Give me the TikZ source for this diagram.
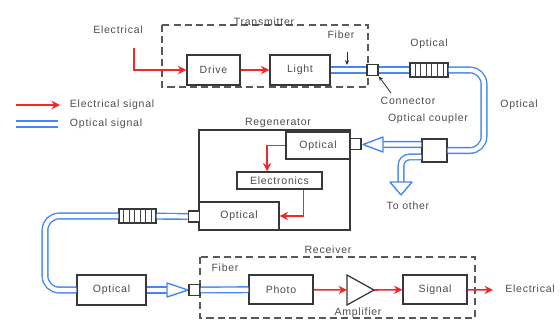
\documentclass[tikz,border=0pt]{standalone}
\usepackage{fontspec}
\setmainfont{Liberation Sans}
\newfontfamily\lblfont{Liberation Sans}[LetterSpace=7]
\usetikzlibrary{arrows.meta,calc}
\definecolor{elred}{RGB}{240,40,40}
\definecolor{optblue}{RGB}{70,135,240}

\begin{document}
\begin{tikzpicture}[x=0.25mm, y=-0.25mm,
    font=\lblfont\fontsize{7.5}{9}\selectfont, text=black!70,
    blk/.style={draw=black!78, line width=0.9pt, fill=white, inner sep=0pt},
    grp/.style={draw=black!65, line width=1.1pt, dash pattern=on 5pt off 3pt},
    elarrow/.style={draw=elred, line width=1.1pt, -{Stealth[length=6pt,width=6pt]}},
    fiber/.style={draw=optblue, double=white, double distance=3pt, line width=1pt},
    fibtri/.style={draw=optblue, line width=1pt, fill=white, line join=round}]
    \useasboundingbox (0,0) rectangle (560,320);

    % legend
    \coordinate (lg1a) at (16,105);
    \coordinate (lg1b) at (60,105);
    \coordinate (lg2a) at (16,124);
    \coordinate (lg2b) at (58,124);
    \draw[elarrow] (lg1a) -- (lg1b);
    \draw[fiber] (lg2a) -- (lg2b);
    \node[anchor=west] (lgel) at (65,105) {Electrical signal};
    \node[anchor=west] (lgop) at (65,124) {Optical signal};

    % transmitter
    \draw[grp] (162,25) rectangle (368,87);
    \node (txlbl) at (264,22) {Transmitter};
    \node[blk, minimum width=13.3mm, minimum height=7.5mm] (drive) at (213.5,70) {Drive};
    \node[blk, minimum width=15mm, minimum height=7.5mm] (light) at (300,70) {Light};
    \node (einlbl) at (118,30) {Electrical};
    \coordinate (ein) at (134,48);
    \draw[elarrow] (ein) |- (drive);
    \draw[elarrow] (drive) -- (light);
    \node (fiblbl1) at (341,35) {Fiber};
    \coordinate (fibtail) at (347,52);
    \coordinate (fibtip) at (347,65);
    \draw[black!80, line width=0.6pt, -{Stealth[length=3.5pt,width=3pt]}] (fibtail) -- (fibtip);

    \node[blk, minimum size=2.8mm] (conn1) at (372.5,70) {};
    \node[blk, minimum width=9.5mm, minimum height=3.5mm] (oamp1) at (429,70) {};
    \foreach \i in {1,...,6}
        \draw[black!75, line width=0.5pt] ($(oamp1.north west)!\i/7!(oamp1.north east)$) -- ($(oamp1.south west)!\i/7!(oamp1.south east)$);
    \draw[fiber] (light) -- (conn1);
    \draw[fiber] (conn1) -- (oamp1);
    \node (oplbl1) at (429,44) {Optical};
    \node (connlbl) at (408,101) {Connector};
    \coordinate (conntail) at (391,93);
    \draw[black!80, line width=0.6pt, -{Stealth[length=3.5pt,width=3pt]}] (conntail) -- (conn1.south east);

    % coupler and branch
    \node[blk, minimum width=6.25mm, minimum height=5.75mm] (coupler) at (434.5,150.5) {};
    \draw[fiber, rounded corners=10pt] (oamp1.east) -- (484,70) -- (484,150.5) -- (coupler.east);
    \node (oplbl2) at (519,105) {Optical};
    \node (cplbl) at (428,119) {Optical coupler};
    \coordinate (tri1base) at (383,144.5);
    \draw[fiber] ([yshift=1.5mm]coupler.west) -- (tri1base);
    \draw[fibtri] (383,137) -- (363,144.5) -- (383,152) -- cycle;
    \coordinate (tri3base) at (401,182);
    \draw[fiber, rounded corners=6pt] ([yshift=-1.6mm]coupler.west) -- (401,157) -- (tri3base);
    \draw[fibtri] (390,182) -- (401,195) -- (412,182) -- cycle;
    \node (othlbl) at (408,206) {To other};

    % regenerator
    \node[blk, minimum width=37.75mm, minimum height=25mm] (regen) at (274.5,180) {};
    \node (rglbl) at (278,123) {Regenerator};
    \node[blk, minimum width=16mm, minimum height=6.75mm] (ropt1) at (318,145.5) {Optical};
    \node[blk, minimum width=21.25mm, minimum height=4.25mm] (elec) at (279.5,180.5) {Electronics};
    \node[blk, minimum width=20mm, minimum height=7mm] (ropt2) at (239,216) {Optical};
    \node[blk, minimum size=2.8mm] (conn2) at (355.5,144) {};
    \node[blk, minimum size=2.8mm] (conn3) at (194,216.5) {};
    \draw[elarrow] (ropt1.west) -| ([xshift=-3.1mm]elec.north);
    \draw[elarrow] ([xshift=6mm]elec.south) |- (ropt2.east);

    % link to receiver
    \node[blk, minimum width=9.25mm, minimum height=3.5mm] (oamp2) at (137.5,216) {};
    \foreach \i in {1,...,6}
        \draw[black!75, line width=0.5pt] ($(oamp2.north west)!\i/7!(oamp2.north east)$) -- ($(oamp2.south west)!\i/7!(oamp2.south east)$);
    \draw[fiber] (conn3) -- (oamp2);
    \node[blk, minimum width=17.25mm, minimum height=7.5mm] (ropt3) at (111.5,290) {Optical};
    \draw[fiber, rounded corners=10pt] (oamp2.west) -- (45,216) -- (45,290) -- (ropt3.west);
    \coordinate (tri2base) at (167,290);
    \draw[fiber] (ropt3.east) -- (tri2base);
    \draw[fibtri] (167,283) -- (188,290) -- (167,297) -- cycle;

    % receiver
    \draw[grp] (200,257) rectangle (475,318);
    \node (rxlbl) at (328,250) {Receiver};
    \node (fiblbl2) at (225,268) {Fiber};
    \node[blk, minimum size=2.8mm] (conn4) at (194.5,290) {};
    \node[blk, minimum width=16mm, minimum height=7.25mm] (photo) at (281,289.5) {Photo};
    \draw[fiber] (conn4) -- (photo);
    \coordinate (ampin) at (347,290);
    \coordinate (ampout) at (374,290);
    \draw[black!78, line width=0.9pt, line join=miter] (347,275) -- (ampout) -- (347,305) -- cycle;
    \node (amplbl) at (358,313) {Amplifier};
    \node[blk, minimum width=16mm, minimum height=7.25mm] (signal) at (435,289.5) {Signal};
    \draw[elarrow] (photo) -- (ampin);
    \draw[elarrow] (ampout) -- (signal);
    \coordinate (eout) at (493,290);
    \draw[elarrow] (signal) -- (eout);
    \node (eoutlbl) at (530,289) {Electrical};
\end{tikzpicture}
\end{document}
